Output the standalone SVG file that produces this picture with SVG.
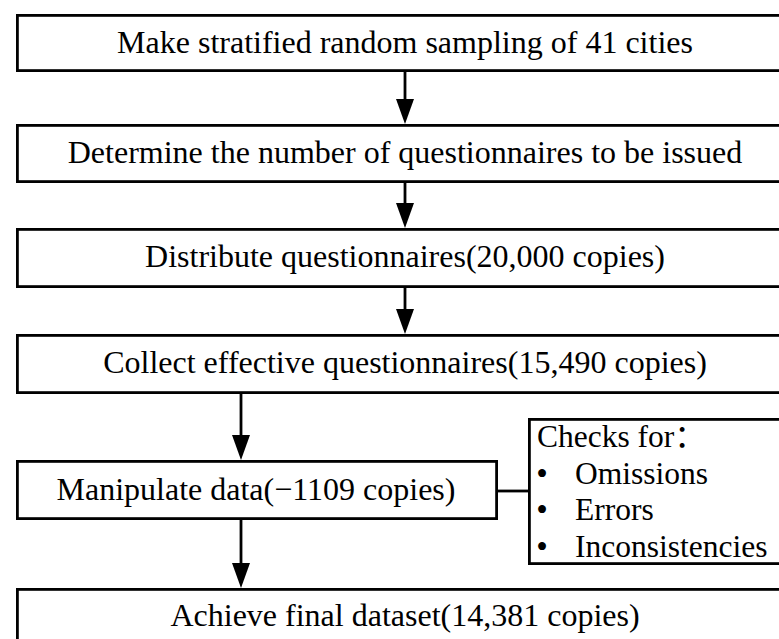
<svg xmlns="http://www.w3.org/2000/svg" width="779" height="639" viewBox="0 0 779 639">
<style>
.box{fill:#fff;stroke:#000;stroke-width:2.8}
.t{font-family:"Liberation Serif","Noto Sans CJK SC",serif;font-size:32px;fill:#000;text-anchor:middle}
.l{font-family:"Liberation Serif","Noto Sans CJK SC",serif;font-size:31.5px;fill:#000}
.b{font-family:"Liberation Serif",serif;font-size:33px;fill:#000;text-anchor:middle}
.c{fill:none;stroke:#000;stroke-width:2.8}
</style>
<rect width="779" height="639" fill="#fff"/>
<g id="connectors">
<line class="c" x1="405" y1="72" x2="405" y2="99" />
<path d="M396,99 L414,99 L405,124 Z" fill="#000"/>
<line class="c" x1="405" y1="183" x2="405" y2="203"/>
<path d="M396,203 L414,203 L405,228 Z" fill="#000"/>
<line class="c" x1="405" y1="288" x2="405" y2="309"/>
<path d="M396,309 L414,309 L405,334 Z" fill="#000"/>
<line class="c" x1="241" y1="394" x2="241" y2="435"/>
<path d="M232,435 L250,435 L241,460 Z" fill="#000"/>
<line class="c" x1="241" y1="520" x2="241" y2="563"/>
<path d="M232,563 L250,563 L241,588 Z" fill="#000"/>
<line class="c" x1="498" y1="491" x2="529" y2="491"/>
</g>
<g id="n1">
<rect class="box" x="17.4" y="15.4" width="780" height="55.2"/>
<text class="t" x="405" y="53">Make stratified random sampling of 41 cities</text>
</g>
<g id="n2">
<rect class="box" x="17.4" y="125.4" width="780" height="56.2"/>
<text class="t" x="405" y="163">Determine the number of questionnaires to be issued</text>
</g>
<g id="n3">
<rect class="box" x="17.4" y="229.4" width="780" height="57.2"/>
<text class="t" x="405" y="267">Distribute questionnaires(20,000 copies)</text>
</g>
<g id="n4">
<rect class="box" x="17.4" y="335.4" width="780" height="57.2"/>
<text class="t" x="405" y="373">Collect effective questionnaires(15,490 copies)</text>
</g>
<g id="n5">
<rect class="box" x="17.4" y="461.4" width="479.2" height="57.2"/>
<text class="t" x="256" y="500">Manipulate data(−1109 copies)</text>
</g>
<g id="n6">
<rect class="box" x="529.4" y="419.4" width="280" height="144.2"/>
<text class="l" x="537" y="447">Checks for：</text>
<text class="b" x="542" y="485">•</text>
<text class="l" x="575" y="484">Omissions</text>
<text class="b" x="542" y="521">•</text>
<text class="l" x="575" y="520">Errors</text>
<text class="b" x="542" y="558">•</text>
<text class="l" x="575" y="557">Inconsistencies</text>
</g>
<g id="n7">
<rect class="box" x="17.4" y="589.4" width="780" height="100"/>
<text class="t" x="405" y="626">Achieve final dataset(14,381 copies)</text>
</g>
</svg>
